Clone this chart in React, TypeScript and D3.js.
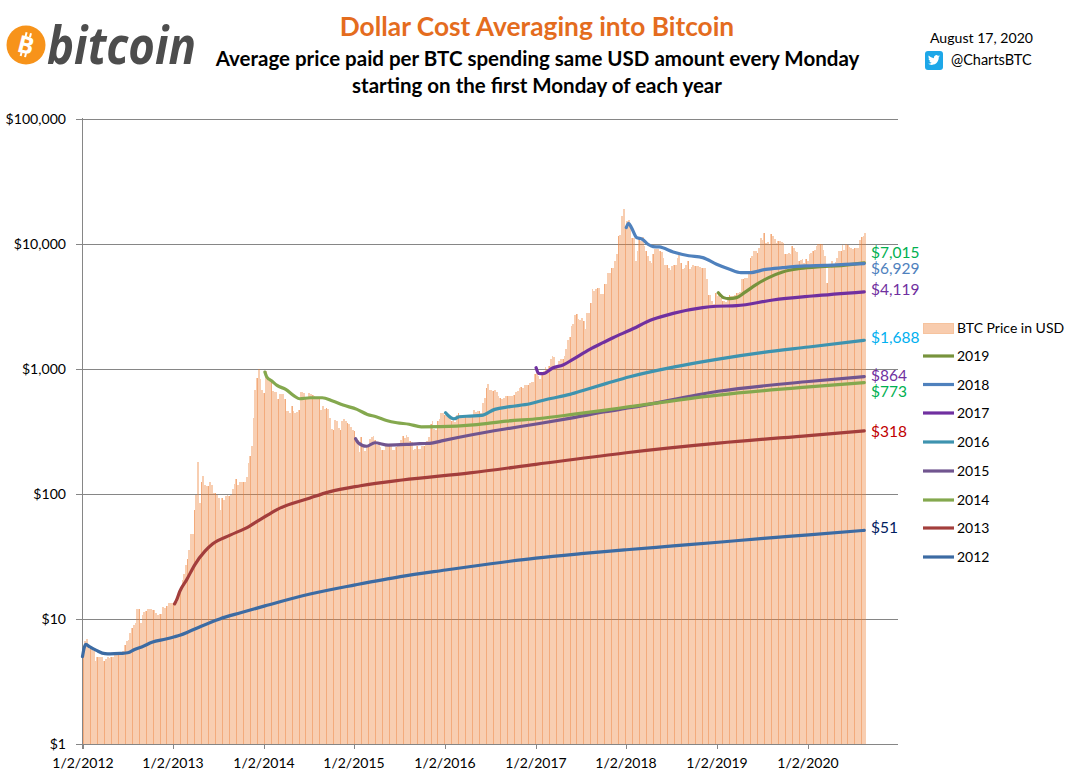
import React from "react";
import * as d3 from "d3";

const FONT = "Lato, 'Open Sans', sans-serif";

const FIRST_MONDAY = "2012-01-02";
const AXIS_END = "2020-12-31";

const price2012 = [5.2,6.6,6.9,6.2,5.7,5.7,5.5,4.6,5.0,5.0,5.0,5.0,4.6,4.8,5.0,4.9,5.0,5.0,5.1,5.1,5.1,5.2,5.2,5.5,6.2,6.6,6.8,7.7,8.5,9.0,9.3,11.9,11.9,9.3,10.8,11.3,11.5,12.0,12.0,12.0,11.7,11.7,11.2,10.7,10.9,11.0,12.5,12.3,12.6,13.5,13.5,13.4,13.5];
const price2013 = [13.5,13.6,16.4,18,20.5,23,27,30,35.6,48,48,74,98,181,84,125,140,117,115,115,124,117,102,102,97,92,74,93,90,96,98,96,98,110,120,132,117,124,124,124,124,135,175,202,240,400,680,850,1000,830,680,640,740].slice(0,52);
const price2014 = [950,870,800,800,660,650,650,570,630,630,630,570,460,460,445,500,460,445,450,470,650,650,640,590,590,635,630,620,600,590,580,590,470,500,475,485,475,405,330,322,390,380,335,325,380,395,385,370,360,345,325,315];
const price2015 = [275,270,215,285,235,220,235,240,275,285,290,270,245,255,235,225,225,240,240,240,240,225,225,235,245,255,270,290,280,295,285,265,260,225,230,240,230,230,240,240,245,265,285,360,380,330,325,380,395,445,440,425];
const price2016 = [445,420,405,380,390,375,430,440,430,415,415,412,415,420,425,430,465,450,460,455,445,530,585,700,750,670,680,660,675,650,605,580,570,580,600,610,610,610,610,620,650,660,700,715,705,740,745,735,770,780,790,900];
const price2017 = [1018,880,830,920,960,1035,1000,1060,1190,1270,1240,1030,1050,1150,1200,1200,1260,1450,1700,1800,2200,2290,2690,2720,2480,2450,2550,2400,2090,2800,2800,3370,4300,4180,4300,4450,4440,3980,3930,4720,4720,5800,5800,6340,6340,7260,8200,11500,11700,16700,19000,13900];
const price2018 = [15200,15500,14300,11100,11100,7300,8700,10800,10500,11200,9500,8700,8000,7300,6950,8200,9000,9100,9100,8800,8500,7700,6800,6700,6400,6200,6600,6700,6800,7700,8100,7000,6300,6400,6800,7250,6300,6500,6700,6650,6650,6600,6500,6350,6400,6350,5200,3900,3900,3450,3300,4000,3800];
const price2019 = [3950,3700,3500,3500,3400,3600,3900,3800,3800,3900,4000,4000,4100,5250,5200,5350,5350,5750,7730,8000,8700,8700,8470,9300,11000,10700,12100,10200,10300,10000,11900,11500,10900,10200,10400,10450,10300,10050,8300,8200,8350,8250,9500,9300,8700,8500,7300,7400,7500,7050,7500,7300];
const price2020 = [8200,8470,8700,8900,9600,10000,10000,9900,8900,7900,4880,6350,6350,7200,6900,7100,7700,8800,8800,9700,8900,10000,9700,9400,9300,9100,9300,9300,9300,10700,11200,11600,12100];

const weeklyPrice = [...price2012, ...price2013, ...price2014, ...price2015, ...price2016, ...price2017, ...price2018, ...price2019, ...price2020];

const weeks2012 = [0,1,2,4,8,13,16,22,26,30,35,40,48,53,56,62,68,79,91,105,131,157,183,209,235,261,287,313,340,366,392,418,450];
const avg2012 = [5.0,5.9,6.25,6.0,5.6,5.27,5.25,5.3,5.36,5.7,6.05,6.5,6.9,7.2,7.4,8.0,8.7,10,11.2,12.7,15.8,18.7,21.8,24.6,27.6,30.6,33.2,35.7,38.3,41,44,47,51];
const weeks2013 = [53,54,56,60,64.7,70.5,75,85,96,102,108,111.7,131,142,160,184,223,261,313,366,418,450];
const avg2013 = [13.2,14,16.6,20.6,27.2,34.8,39.8,46.7,55,62,69.5,74.5,92.6,103.6,116,129,147,172,213,254,292,318];
const weeks2014 = [105,106,109,112,117,122,125,131,138,144,150,158,164,169,175,181,188,195,206,225,244,263,282,301,315,366,418,450];
const avg2014 = [940,863,797,735,683,604,575,586,586,551,512,473,431,413,386,370,360,343,344,355,381,400,431,467,497,615,715,773];
const weeks2015 = [157.2,158.7,163.5,168.3,176,186.5,194,200,206.7,225,244,263,282,301,315,366,418,450];
const avg2015 = [276,256,240,256,245,248,252,253,265,298,331,365,405,453,487,660,790,864];
const weeks2016 = [209,210.5,213.8,217,223,229.7,237.3,246,257.6,267,280.6,290,301.7,315,340,366,392,418,450];
const avg2016 = [445,423,398,413,418,423,473,497,525,568,623,683,763,863,1030,1194,1350,1490,1688];
const weeks2017 = [261.1,262.6,265,270.9,276.6,282.3,292,299.6,305.4,315,328.4,340,357,365,376.5,397.4,420,450];
const avg2017 = [1018,917,912,1018,1070,1188,1428,1614,1769,2027,2480,2770,3080,3155,3190,3540,3810,4119];
const weeks2018 = [313,314.4,316,319,322.3,325.5,328.4,332,340,349,357,365,372.5,379,384,393.4,403,416,427.7,439,450];
const avg2018 = [13430,14540,13430,11170,10830,9880,9460,9400,8570,8000,7730,6830,6230,5860,5860,6230,6420,6630,6700,6830,6929];
const weeks2019 = [366,369,372,376.5,381,388,395,403,413,424.7,438,450];
const avg2019 = [4050,3700,3630,3700,4050,4720,5350,5930,6320,6550,6700,7015];

const lineSeries = [
  { name: "2019", weeks: weeks2019, values: avg2019, color: "#77933C" },
  { name: "2018", weeks: weeks2018, values: avg2018, color: "#4F81BD" },
  { name: "2017", weeks: weeks2017, values: avg2017, color: "#7030A0" },
  { name: "2016", weeks: weeks2016, values: avg2016, color: "#3E93AF" },
  { name: "2015", weeks: weeks2015, values: avg2015, color: "#71558F" },
  { name: "2014", weeks: weeks2014, values: avg2014, color: "#84A84E" },
  { name: "2013", weeks: weeks2013, values: avg2013, color: "#A33E3C" },
  { name: "2012", weeks: weeks2012, values: avg2012, color: "#3C6BA3" },
];

const xTickLabels = ["1/2/2012","1/2/2013","1/2/2014","1/2/2015","1/2/2016","1/2/2017","1/2/2018","1/2/2019","1/2/2020"];
const yTickValues = [1, 10, 100, 1000, 10000, 100000];

const endLabels = [
  { value: 7015, text: "$7,015", color: "#00B050", cy: 252.5 },
  { value: 6929, text: "$6,929", color: "#4F81BD", cy: 268 },
  { value: 4119, text: "$4,119", color: "#7030A0", cy: 289.5 },
  { value: 1688, text: "$1,688", color: "#00B0F0", cy: 337 },
  { value: 864, text: "$864", color: "#7030A0", cy: 375.5 },
  { value: 773, text: "$773", color: "#00B050", cy: 391 },
  { value: 318, text: "$318", color: "#C00000", cy: 431 },
  { value: 51, text: "$51", color: "#002060", cy: 527 },
];

const legendRowsY = [356, 384.5, 413, 442, 471, 500, 528, 557];

const MS_DAY = 86400000;
const parseUTC = (s: string) => new Date(s + "T00:00:00Z");
const start = parseUTC(FIRST_MONDAY);
const weekDate = (w: number) => new Date(start.getTime() + w * 7 * MS_DAY);

const x = d3.scaleUtc().domain([start, parseUTC(AXIS_END)]).range([82.5, 898]);
const y = d3.scaleLog().domain([1, 100000]).range([744, 118.5]);

const fmt = d3.format("$,");
const twitterPath = "M23.953 4.57a10 10 0 01-2.825.775 4.958 4.958 0 002.163-2.723c-.951.555-2.005.959-3.127 1.184a4.92 4.92 0 00-8.384 4.482C7.69 8.095 4.067 6.13 1.64 3.162a4.822 4.822 0 00-.666 2.475c0 1.71.87 3.213 2.188 4.096a4.904 4.904 0 01-2.228-.616v.06a4.923 4.923 0 003.946 4.827 4.996 4.996 0 01-2.212.085 4.936 4.936 0 004.604 3.417 9.867 9.867 0 01-6.102 2.105c-.39 0-.779-.023-1.17-.067a13.995 13.995 0 007.557 2.209c9.053 0 13.998-7.496 13.998-15.07 0-.225 0-.45-.015-.675A9.935 9.935 0 0024 4.59z";

export default function App() {
  const line = d3
    .line<number>()
    .x((w) => x(weekDate(w)))
    .curve(d3.curveMonotoneX);
  const grid = "#868686";
  return (
    <svg
      width={1078}
      height={779}
      viewBox="0 0 1078 779"
      style={{ position: "absolute", left: 0, top: 0, display: "block", background: "#fff" }}
      fontFamily={FONT}
    >
      {/* Gridlines */}
      {yTickValues.map((v) => (
        <line key={v} x1={76} x2={898} y1={Math.round(y(v)) + 0.5} y2={Math.round(y(v)) + 0.5} stroke={grid} strokeWidth={1} />
      ))}
      {/* Weekly bars */}
      <g shapeRendering="crispEdges">
        {weeklyPrice.map((p, i) => {
          const x0 = Math.round(x(weekDate(i)));
          const x1 = Math.round(x(weekDate(i + 1)));
          return <rect key={i} x={x0} width={x1 - x0} y={y(p)} height={744 - y(p)} fill="#ED7D31" fillOpacity={0.38} />;
        })}
        {weeklyPrice.map((p, i) =>
          i % 4 === 0 ? (
            <rect key={i} x={Math.round(x(weekDate(i)) + 0.6)} width={1} y={y(p)} height={744 - y(p)} fill="#ED7D31" fillOpacity={0.42} />
          ) : null
        )}
      </g>
      {/* Axes */}
      <line x1={82.5} x2={82.5} y1={118} y2={749} stroke={grid} />
      <line x1={76} x2={898} y1={744.5} y2={744.5} stroke={grid} />
      {xTickLabels.map((t) => {
        const [m, d, yr] = t.split("/");
        const px = Math.round(x(parseUTC(`${yr}-0${m}-0${d}`))) + 0.5;
        return (
          <g key={t}>
            <line x1={px} x2={px} y1={744} y2={749} stroke={grid} />
            <text x={px - 0.5} y={768} textAnchor="middle" fontSize={14} fill="#000">{t}</text>
          </g>
        );
      })}
      {yTickValues.map((v) => (
        <text key={v} x={66} y={y(v) + 5} textAnchor="end" fontSize={14.1} fill="#000">{fmt(v)}</text>
      ))}
      {/* DCA lines */}
      {lineSeries.map((s) => {
        const path = line.y((_, i) => y(s.values[i]))(s.weeks) || "";
        return <path key={s.name} d={path} fill="none" stroke={s.color} strokeWidth={3.2} strokeLinecap="round" strokeLinejoin="round" />;
      })}
      {/* End labels */}
      {endLabels.map((l) => (
        <text key={l.text} x={871} y={l.cy + 5.5} fontSize={15.5} fill={l.color}>{l.text}</text>
      ))}
      {/* Legend */}
      <rect x={923.5} y={323.5} width={30} height={10} fill="#F8CCAE" stroke="#F6C39E" />
      <text x={957} y={332.5} fontSize={14} fill="#000">BTC Price in USD</text>
      {lineSeries.map((s, i) => (
        <g key={s.name}>
          <line x1={923} x2={954} y1={legendRowsY[i]} y2={legendRowsY[i]} stroke={s.color} strokeWidth={3.2} />
          <text x={957} y={legendRowsY[i] + 5} fontSize={14} fill="#000">{s.name}</text>
        </g>
      ))}
      {/* Titles */}
      <text x={537} y={36} textAnchor="middle" fontSize={26.3} fontWeight={700} fill="#E46C1E">Dollar Cost Averaging into Bitcoin</text>
      <text x={537.5} y={66} textAnchor="middle" fontSize={20.5} fontWeight={700} fill="#000">Average price paid per BTC spending same USD amount every Monday</text>
      <text x={537} y={93} textAnchor="middle" fontSize={20.5} fontWeight={700} fill="#000">starting on the first Monday of each year</text>
      {/* Logo */}
      <circle cx={26} cy={45} r={19.5} fill="#F7931A" />
      <g transform="rotate(14 26 45)" fill="#fff">
        <text x={26} y={53.5} textAnchor="middle" fontSize={24} fontWeight={700} fontFamily="'Open Sans', sans-serif">B</text>
        <rect x={22.5} y={32.5} width={2} height={4} />
        <rect x={27} y={32.5} width={2} height={4} />
        <rect x={22.5} y={53} width={2} height={4} />
        <rect x={27} y={53} width={2} height={4} />
      </g>
      <text x={47} y={63.5} fontSize={52} fontStyle="italic" fontWeight={700} fontFamily="'Open Sans', sans-serif" fill="#4D4D4D" textLength={149} lengthAdjust="spacingAndGlyphs">bitcoin</text>
      {/* Date and handle */}
      <text x={930} y={43} fontSize={14.1} fill="#000">August 17, 2020</text>
      <rect x={925} y={51} width={18} height={19} rx={3} fill="#1DA7E8" />
      <path d={twitterPath} transform="translate(928 54) scale(0.5)" fill="#fff" />
      <text x={951} y={65} fontSize={14.5} fill="#000">@ChartsBTC</text>
    </svg>
  );
}
